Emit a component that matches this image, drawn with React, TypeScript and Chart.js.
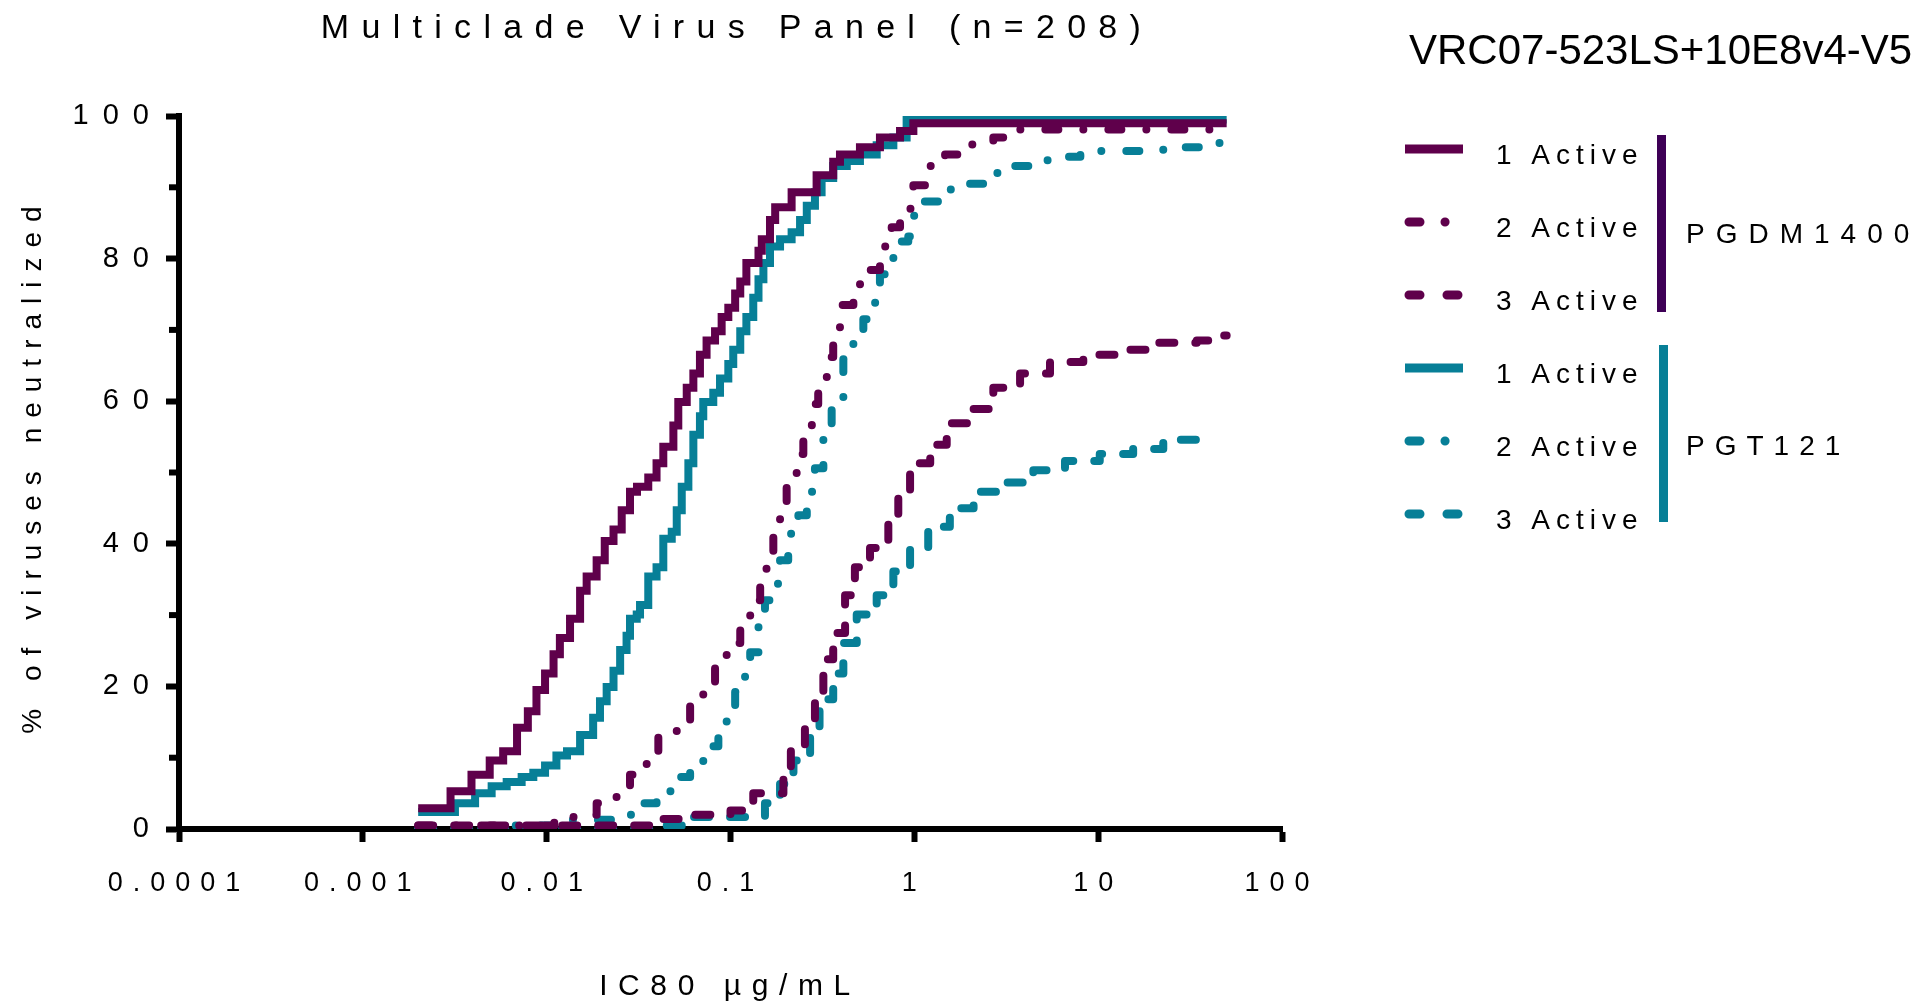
import { useEffect, useRef } from 'react';
import { Chart, registerables } from 'chart.js';

Chart.register(...registerables);

// ---------- data ----------
const X_TICKS = [0.0001, 0.001, 0.01, 0.1, 1, 10, 100];
const X_TICK_LABELS = ['0.0001', '0.001', '0.01', '0.1', '1', '10', '100'];
const Y_TICKS = [0, 20, 40, 60, 80, 100];
const Y_TICK_LABELS = ['0', '20', '40', '60', '80', '100'];
const Y_MINOR_TICKS = [10, 30, 50, 70, 90];

const GROUP_NAMES = ['PGDM1400', 'PGT121'];
const SERIES_LABELS = ['1 Active', '2 Active', '3 Active'];

const PGDM_1_X = [0.002, 0.003, 0.0039, 0.0049, 0.0058, 0.0069, 0.0079, 0.0088, 0.0098, 0.0109, 0.0118, 0.0134, 0.0152, 0.0165, 0.0187, 0.0207, 0.0231, 0.0256, 0.0284, 0.031, 0.0357, 0.0396, 0.0431, 0.0489, 0.052, 0.0578, 0.0628, 0.0682, 0.0741, 0.0824, 0.0895, 0.0973, 0.106, 0.113, 0.122, 0.142, 0.148, 0.164, 0.175, 0.215, 0.294, 0.362, 0.394, 0.506, 0.65, 0.836, 0.988, 50];
const PGDM_1_Y = [2.9, 5.3, 7.6, 9.6, 10.9, 14.2, 16.5, 19.5, 21.8, 24.5, 26.8, 29.5, 33.4, 35.4, 37.7, 40.4, 42, 44.7, 47.3, 48, 49.3, 51.3, 53.6, 56.6, 59.9, 61.9, 63.9, 66.5, 68.5, 69.8, 71.8, 73.1, 75.1, 76.8, 79.4, 81.1, 82.7, 85.4, 87.2, 89.3, 91.7, 93.6, 94.6, 95.6, 97, 97.9, 99.0, 99.0];

const PGDM_2_X = [0.002, 0.011, 0.014, 0.0187, 0.024, 0.0284, 0.035, 0.0405, 0.051, 0.0603, 0.0711, 0.0824, 0.0953, 0.113, 0.128, 0.145, 0.157, 0.171, 0.186, 0.202, 0.229, 0.249, 0.277, 0.3, 0.334, 0.362, 0.394, 0.466, 0.574, 0.65, 0.753, 0.836, 0.871, 0.988, 1.167, 1.47, 2.01, 2.69, 3.6, 50];
const PGDM_2_Y = [0.48, 0.96, 2.0, 3.6, 5.3, 7.6, 10.3, 12.9, 15.2, 17.5, 20.5, 23.5, 26.1, 28.8, 32.1, 35.1, 38.7, 42.4, 45.3, 49.3, 52.6, 56.3, 59.6, 62.9, 66.2, 69.8, 73.5, 76.4, 78.4, 81.7, 84.4, 86.4, 87.0, 90.3, 93, 94.6, 96, 97, 98.1, 98.1];

const PGDM_3_X = [0.002, 0.043, 0.06, 0.1, 0.133, 0.194, 0.213, 0.254, 0.288, 0.32, 0.362, 0.42, 0.475, 0.574, 0.722, 0.818, 0.948, 1.22, 1.5, 2.1, 2.69, 3.76, 5.47, 8.3, 12.6, 20, 34.4, 46, 50];
const PGDM_3_Y = [0.48, 1.4, 2.0, 2.6, 5.0, 6.9, 10.9, 14.6, 18.9, 23.8, 27.5, 32.8, 36.7, 39.4, 42.7, 46.7, 51.3, 53.9, 56.9, 58.9, 61.9, 63.9, 65.5, 66.5, 67.2, 68.2, 68.5, 69.2, 69.2];

const PGT_1_X = [0.002, 0.00317, 0.00408, 0.00502, 0.00606, 0.00731, 0.00846, 0.0098, 0.0113, 0.0129, 0.0152, 0.0179, 0.0195, 0.0212, 0.0231, 0.0251, 0.0272, 0.0284, 0.0309, 0.0322, 0.0357, 0.0396, 0.0431, 0.0479, 0.051, 0.0543, 0.059, 0.0628, 0.0682, 0.0711, 0.0806, 0.0877, 0.0973, 0.1035, 0.113, 0.122, 0.133, 0.142, 0.151, 0.164, 0.186, 0.215, 0.239, 0.26, 0.288, 0.313, 0.362, 0.429, 0.506, 0.624, 0.769, 0.908, 50];
const PGT_1_Y = [2.4, 3.6, 5.0, 6.0, 6.6, 7.3, 7.9, 8.9, 10.3, 10.9, 13.2, 15.6, 17.9, 19.9, 22.2, 25.1, 27.1, 29.5, 30.1, 31.4, 35.4, 36.7, 40.7, 41.7, 44.7, 48, 51.3, 55.3, 57.9, 59.9, 61.2, 63.2, 65.2, 67.2, 69.8, 71.8, 74.5, 77.1, 79.4, 81.7, 82.7, 83.7, 85.4, 87.4, 89.3, 91.3, 93, 93.7, 94.6, 95.9, 97, 99.5, 99.5];

const PGT_2_X = [0.002, 0.0055, 0.0134, 0.0272, 0.0322, 0.0396, 0.051, 0.0603, 0.0711, 0.0859, 0.0953, 0.106, 0.12, 0.128, 0.142, 0.154, 0.171, 0.186, 0.206, 0.234, 0.26, 0.288, 0.32, 0.355, 0.411, 0.466, 0.528, 0.598, 0.65, 0.769, 0.836, 0.927, 0.988, 1.12, 1.38, 1.93, 2.37, 3.1, 4.44, 5.7, 8.0, 22.6, 44.1, 50];
const PGT_2_Y = [0, 0.48, 1.3, 2.0, 3.6, 5.3, 7.3, 8.9, 11.6, 13.9, 16.2, 19.2, 22.8, 24.8, 28.8, 32.1, 34.4, 37.7, 41.4, 44, 47.3, 50.6, 56.6, 59.9, 65.9, 68.5, 71.5, 73.8, 77.8, 80.1, 82.4, 83.1, 86, 88, 89.7, 90.5, 92, 93, 93.8, 94.3, 95.1, 95.6, 96.2, 96.2];

const PGT_3_X = [0.002, 0.04, 0.06, 0.154, 0.186, 0.22, 0.271, 0.305, 0.362, 0.411, 0.486, 0.624, 0.769, 0.948, 1.19, 1.56, 2.1, 3.05, 4.44, 6.6, 10.2, 15.5, 22.6, 34.4, 40];
const PGT_3_Y = [0, 0.48, 1.7, 3.6, 6.3, 9.6, 14.2, 18.2, 21.8, 26.1, 30.1, 32.8, 36.1, 39.4, 42.4, 45, 47.3, 48.6, 50.3, 51.6, 52.6, 53.3, 54.6, 55.6, 55.6];

// ---------- styles ----------
const PURPLE = '#5f004b';
const TEAL = '#077f97';
const BRACKET_PURPLE = '#3e0056';
const FONT = "'Liberation Sans', Arial, sans-serif";
const DASH_SOLID: number[] = [];
const DASH_DOT = [13, 25, 0.01, 25];
const DASH_DASH = [15, 21];
const LINE_W = 8;

const SERIES = [
  { group: 0, label: SERIES_LABELS[0], xs: PGDM_1_X, ys: PGDM_1_Y, color: PURPLE, dash: DASH_SOLID },
  { group: 0, label: SERIES_LABELS[1], xs: PGDM_2_X, ys: PGDM_2_Y, color: PURPLE, dash: DASH_DOT },
  { group: 0, label: SERIES_LABELS[2], xs: PGDM_3_X, ys: PGDM_3_Y, color: PURPLE, dash: DASH_DASH },
  { group: 1, label: SERIES_LABELS[0], xs: PGT_1_X, ys: PGT_1_Y, color: TEAL, dash: DASH_SOLID },
  { group: 1, label: SERIES_LABELS[1], xs: PGT_2_X, ys: PGT_2_Y, color: TEAL, dash: DASH_DOT },
  { group: 1, label: SERIES_LABELS[2], xs: PGT_3_X, ys: PGT_3_Y, color: TEAL, dash: DASH_DASH },
];

// layout constants (px)
const W = 1913;
const H = 1001;
const AREA_LEFT = 179;
const AREA_RIGHT = 1282;
const AREA_TOP = 116;
const AREA_BOTTOM = 829;
const LEGEND_ROW_Y = [149, 222, 295, 368, 441, 514];

function patchSpacing(scale: any, spacing: string) {
  if (!scale || scale.__spacingPatched) return;
  const orig = scale.drawLabels;
  scale.drawLabels = function (area: any) {
    const c = this.ctx;
    const prev = c.letterSpacing;
    c.letterSpacing = spacing;
    orig.call(this, area);
    c.letterSpacing = prev || '0px';
  };
  scale.__spacingPatched = true;
}

function spacedText(ctx: any, text: string, x: number, y: number, font: string, spacing: number, align: string, color: string) {
  ctx.save();
  ctx.font = font;
  ctx.letterSpacing = spacing + 'px';
  ctx.textAlign = align;
  ctx.textBaseline = 'middle';
  ctx.fillStyle = color;
  ctx.fillText(text, x, y);
  ctx.restore();
}

const overlayPlugin = {
  id: 'overlay',
  afterLayout(chart: any) {
    patchSpacing(chart.scales.x, '10px');
    patchSpacing(chart.scales.y, '14px');
  },
  afterDraw(chart: any) {
    const ctx = chart.ctx;
    const ys = chart.scales.y;
    const area = chart.chartArea;

    // minor y ticks
    ctx.save();
    ctx.strokeStyle = '#000';
    ctx.lineWidth = 6;
    Y_MINOR_TICKS.forEach((v) => {
      const py = ys.getPixelForValue(v);
      ctx.beginPath();
      ctx.moveTo(area.left - 3, py);
      ctx.lineTo(area.left - 10, py);
      ctx.stroke();
    });
    ctx.restore();

    // titles
    spacedText(ctx, 'Multiclade Virus Panel (n=208)', 737, 29, `34px ${FONT}`, 12.3, 'center', '#000');
    spacedText(ctx, 'VRC07-523LS+10E8v4-V5', 1409, 52, `42px ${FONT}`, 0, 'left', '#000');
    spacedText(ctx, 'IC80 µg/mL', 730, 987, `30px ${FONT}`, 10.6, 'center', '#000');

    ctx.save();
    ctx.translate(33, 465);
    ctx.rotate(-Math.PI / 2);
    spacedText(ctx, '% of viruses neutralized', 0, 0, `28px ${FONT}`, 10, 'center', '#000');
    ctx.restore();

    // legend
    SERIES.forEach((s, i) => {
      const y = LEGEND_ROW_Y[i];
      ctx.save();
      ctx.strokeStyle = s.color;
      ctx.lineWidth = 9;
      if (s.dash.length === 0) {
        ctx.lineCap = 'butt';
        ctx.beginPath();
        ctx.moveTo(1405, y);
        ctx.lineTo(1463, y);
        ctx.stroke();
      } else {
        ctx.lineCap = 'round';
        ctx.beginPath();
        ctx.moveTo(1409, y);
        ctx.lineTo(1420, y);
        if (s.dash === DASH_DOT) {
          ctx.moveTo(1445, y);
          ctx.lineTo(1445.1, y);
        } else {
          ctx.moveTo(1447, y);
          ctx.lineTo(1458, y);
        }
        ctx.stroke();
      }
      ctx.restore();
      spacedText(ctx, s.label, 1496, y + 7.5, `28px ${FONT}`, 6, 'left', '#000');
    });

    // group brackets
    ctx.save();
    ctx.fillStyle = BRACKET_PURPLE;
    ctx.fillRect(1657, 135, 9, 177);
    ctx.fillStyle = TEAL;
    ctx.fillRect(1659, 345, 9, 177);
    ctx.restore();
    spacedText(ctx, GROUP_NAMES[0], 1686, 235, `28px ${FONT}`, 11, 'left', '#000');
    spacedText(ctx, GROUP_NAMES[1], 1686, 447, `28px ${FONT}`, 10, 'left', '#000');
  },
};

export default function App() {
  const ref = useRef<HTMLCanvasElement>(null);

  useEffect(() => {
    document.body.style.margin = '0';
    const canvas = ref.current;
    if (!canvas) return;

    const datasets = SERIES.map((s) => ({
      label: `${GROUP_NAMES[s.group]} ${s.label}`,
      data: s.xs.map((x, i) => ({ x, y: s.ys[i] })),
      borderColor: s.color,
      backgroundColor: s.color,
      borderWidth: LINE_W,
      borderDash: s.dash,
      borderCapStyle: s.dash.length ? 'round' : 'butt',
      borderJoinStyle: s.dash.length ? 'round' : 'miter',
      stepped: true,
      showLine: true,
      pointRadius: 0,
      pointHoverRadius: 0,
      fill: false,
    }));

    const chart = new Chart(canvas, {
      type: 'scatter',
      data: { datasets } as any,
      plugins: [overlayPlugin as any],
      options: {
        animation: false,
        responsive: false,
        devicePixelRatio: 1,
        layout: { padding: { top: AREA_TOP, right: W - AREA_RIGHT, left: 0, bottom: 0 } },
        plugins: { legend: { display: false }, tooltip: { enabled: false }, title: { display: false } },
        scales: {
          x: {
            type: 'logarithmic',
            position: 'bottom',
            min: X_TICKS[0],
            max: X_TICKS[X_TICKS.length - 1],
            afterBuildTicks: (s: any) => {
              s.ticks = X_TICKS.map((v) => ({ value: v }));
            },
            afterFit: (s: any) => {
              s.height = H - AREA_BOTTOM;
            },
            ticks: {
              autoSkip: false,
              maxRotation: 0,
              minRotation: 0,
              padding: 25,
              color: '#000',
              font: { family: FONT, size: 27 },
              callback: (v: any) => {
                const idx = X_TICKS.findIndex((t) => Math.abs(t - Number(v)) / t < 1e-6);
                return idx >= 0 ? X_TICK_LABELS[idx] : '';
              },
            },
            grid: { display: true, drawOnChartArea: false, drawTicks: true, tickLength: 13, tickWidth: 6, tickColor: '#000' },
            border: { display: true, width: 6, color: '#000' },
          },
          y: {
            type: 'linear',
            position: 'left',
            min: 0,
            max: 100,
            afterBuildTicks: (s: any) => {
              s.ticks = Y_TICKS.map((v) => ({ value: v }));
            },
            afterFit: (s: any) => {
              s.width = AREA_LEFT;
            },
            ticks: {
              autoSkip: false,
              padding: 3,
              color: '#000',
              font: { family: FONT, size: 29 },
              callback: (v: any) => {
                const idx = Y_TICKS.indexOf(Number(v));
                return idx >= 0 ? Y_TICK_LABELS[idx] : '';
              },
            },
            grid: { display: true, drawOnChartArea: false, drawTicks: true, tickLength: 13, tickWidth: 6, tickColor: '#000' },
            border: { display: true, width: 6, color: '#000' },
          },
        },
      } as any,
    });

    return () => chart.destroy();
  }, []);

  return <canvas ref={ref} width={W} height={H} style={{ display: 'block', width: W, height: H }} />;
}
